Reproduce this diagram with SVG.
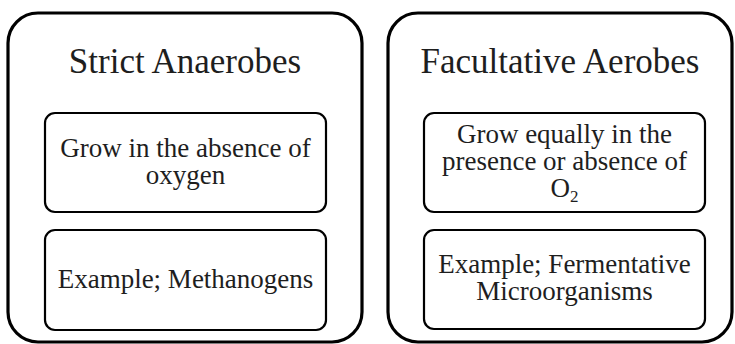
<svg xmlns="http://www.w3.org/2000/svg" width="735" height="344" viewBox="0 0 735 344">
<style>
.outer{fill:#fff;stroke:#000;stroke-width:3.2}
.inner{fill:#fff;stroke:#000;stroke-width:2.2}
text{font-family:"Liberation Serif","Times New Roman",Tinos,serif;fill:#1e1e1e;text-anchor:middle}
.title{font-size:35px}
.body{font-size:27px}
.sub{font-size:17px}
</style>
<rect width="735" height="344" fill="#fff"/>
<g id="strict-anaerobes">
<rect class="outer" x="8" y="13" width="354" height="329" rx="30"/>
<text class="title" x="185" y="73">Strict Anaerobes</text>
</g>
<g id="strict-desc">
<rect class="inner" x="45" y="113" width="281" height="99" rx="10"/>
<text class="body" x="185.5" y="157">Grow in the absence of</text>
<text class="body" x="185.5" y="184">oxygen</text>
</g>
<g id="strict-example">
<rect class="inner" x="45" y="230" width="281" height="100" rx="10"/>
<text class="body" x="185.5" y="288">Example; Methanogens</text>
</g>
<g id="facultative-aerobes">
<rect class="outer" x="388" y="13" width="344" height="329" rx="30"/>
<text class="title" x="560" y="73">Facultative Aerobes</text>
</g>
<g id="facultative-desc">
<rect class="inner" x="424" y="113" width="281" height="99" rx="10"/>
<text class="body" x="564.5" y="143">Grow equally in the</text>
<text class="body" x="564.5" y="170">presence or absence of</text>
<text class="body" x="564.5" y="197">O<tspan class="sub" dy="5">2</tspan></text>
</g>
<g id="facultative-example">
<rect class="inner" x="424" y="230" width="281" height="99" rx="10"/>
<text class="body" x="564.5" y="273">Example; Fermentative</text>
<text class="body" x="564.5" y="300">Microorganisms</text>
</g>
<g id="connectors"></g>
</svg>
